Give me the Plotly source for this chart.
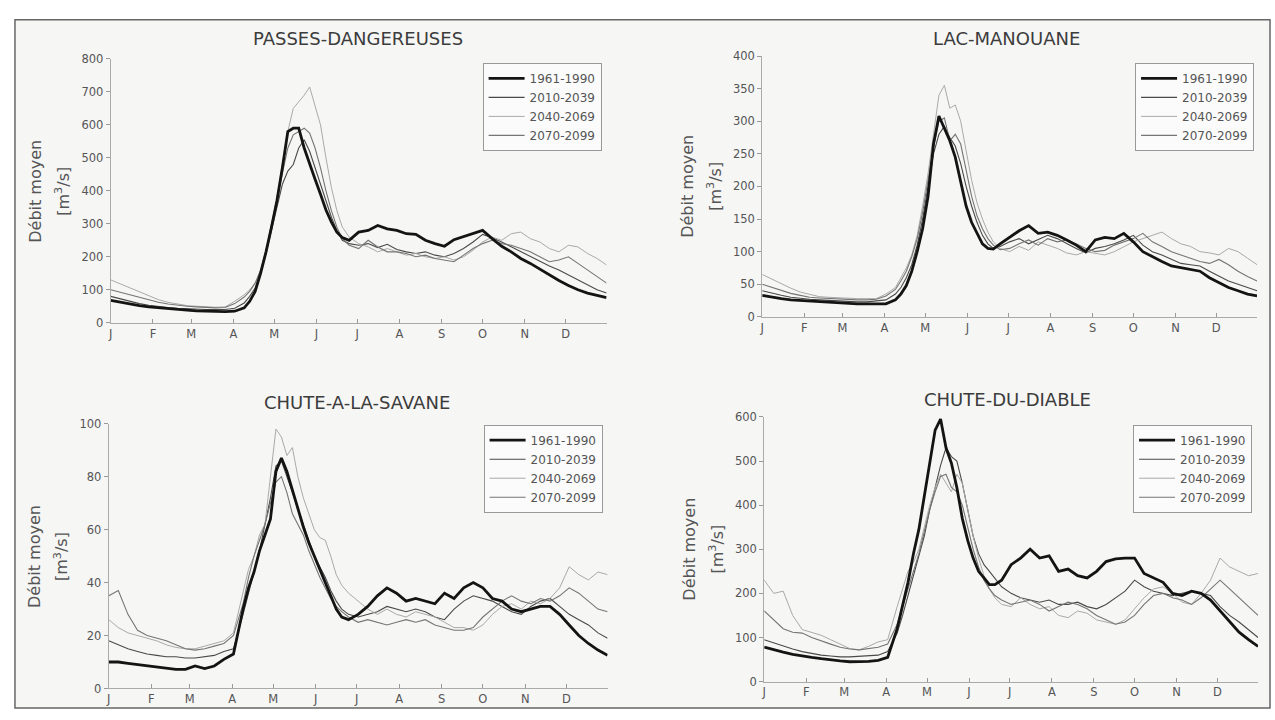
import plotly.graph_objects as go

# ---------------- data ----------------
DAYS = [1, 8, 15, 22, 29, 36, 43, 50, 57, 64, 71, 78, 85, 92,
        99, 103, 107, 111, 115, 119, 123, 127, 131, 135, 139, 143, 147, 151, 155, 159, 163, 167, 171, 176,
        183, 190, 197, 204, 211, 218, 225, 232, 239, 246, 253, 260, 267, 274, 281, 288, 295, 302, 309,
        316, 323, 330, 337, 344, 351, 358, 365]

MONTH_START = [1, 32, 60, 91, 121, 152, 182, 213, 244, 274, 305, 335]
MONTH_LABELS = ["J", "F", "M", "A", "M", "J", "J", "A", "S", "O", "N", "D"]
PERIODS = ["1961-1990", "2010-2039", "2040-2069", "2070-2099"]
STATIONS = ["PASSES-DANGEREUSES", "LAC-MANOUANE", "CHUTE-A-LA-SAVANE", "CHUTE-DU-DIABLE"]
Y_MAX = [800, 400, 100, 600]
Y_DTICK = [100, 50, 20, 100]

pd_1961 = [68, 62, 57, 52, 48, 45, 42, 40, 38, 36, 35, 34, 34, 35,
           45, 65, 95, 150, 215, 290, 370, 470, 580, 590, 590, 530, 480, 435, 390, 342, 305, 275, 258, 250,
           275, 280, 295, 285, 280, 270, 268, 250, 240, 232, 252, 262, 270, 280, 255, 232, 215, 195, 180, 162,
           145, 128, 113, 100, 90, 82, 76]
pd_2010 = [80, 72, 65, 58, 53, 49, 46, 44, 42, 41, 40, 40, 40, 44,
           60, 80, 105, 150, 210, 280, 350, 420, 460, 480, 530, 555, 520, 470, 420, 370, 320, 280, 250, 240,
           235, 240, 228, 238, 222, 215, 210, 215, 205, 200, 210, 225, 245, 268, 258, 245, 230, 215, 200, 185,
           172, 160, 145, 130, 115, 100, 90]
pd_2040 = [130, 118, 105, 92, 80, 70, 62, 56, 52, 50, 48, 47, 48, 65,
           85, 100, 120, 150, 210, 290, 380, 480, 580, 650, 670, 690, 715, 660, 600, 500, 410, 340, 290, 260,
           240, 230, 215, 225, 215, 205, 210, 200, 195, 200, 190, 200, 220, 245, 260, 250, 270, 275, 255, 245,
           225, 215, 235, 230, 210, 195, 175]
pd_2070 = [100, 92, 84, 76, 68, 62, 57, 53, 50, 48, 46, 45, 46, 58,
           78, 95, 120, 160, 220, 300, 380, 460, 530, 570, 580, 590, 575, 530, 470, 400, 340, 290, 255, 235,
           225, 250, 230, 215, 215, 210, 200, 205, 195, 190, 185, 205, 225, 240, 250, 240, 235, 225, 215, 200,
           185, 190, 200, 180, 160, 140, 120]

lm_1961 = [33, 30, 28, 26, 25, 24, 23, 22, 21, 21, 20, 20, 20, 20,
           26, 35, 48, 70, 100, 135, 185, 265, 308, 288, 270, 245, 205, 170, 145, 128, 112, 105, 104, 112,
           122, 132, 140, 128, 130, 125, 118, 110, 100, 118, 122, 120, 128, 115, 100, 92, 85, 78, 75, 73,
           70, 60, 52, 45, 40, 35, 32]
lm_2010 = [40, 36, 33, 30, 28, 27, 26, 25, 24, 24, 23, 23, 24, 26,
           35, 45, 60, 80, 110, 150, 200, 250, 280, 292, 275, 262, 235, 200, 170, 145, 125, 112, 105, 108,
           115, 120, 112, 118, 125, 120, 112, 105, 98, 105, 108, 112, 118, 125, 110, 100, 95, 88, 82, 80,
           78, 70, 62, 55, 50, 45, 40]
lm_2040 = [65, 58, 50, 44, 38, 34, 31, 30, 29, 28, 28, 28, 28, 35,
           45, 60, 75, 95, 125, 170, 220, 280, 340, 355, 320, 325, 300, 255, 210, 175, 150, 130, 115, 105,
           100, 108, 102, 115, 110, 105, 98, 95, 100, 98, 95, 100, 108, 115, 120, 125, 130, 120, 112, 108,
           100, 98, 95, 105, 100, 90, 80]
lm_2070 = [50, 45, 40, 36, 33, 30, 29, 28, 27, 27, 26, 26, 27, 32,
           42, 55, 70, 92, 120, 160, 210, 260, 300, 305, 270, 280, 265, 225, 185, 155, 135, 120, 110, 103,
           105, 112, 118, 110, 120, 115, 118, 112, 105, 100, 102, 110, 115, 120, 128, 115, 108, 100, 95, 90,
           85, 82, 88, 80, 70, 62, 55]

cs_1961 = [10, 10, 9.5, 9, 8.5, 8, 7.5, 7.2, 7.2, 8.5, 7.5, 8.5, 11, 13,
           30, 38, 44, 52, 58, 64, 82, 87, 82, 75, 68, 61, 55, 50, 45, 40, 35, 30, 27, 26,
           28, 31, 35, 38, 36, 33, 34, 33, 32, 36, 34, 38, 40, 38, 34, 33, 30, 29, 30, 31,
           31, 28, 24, 20, 17, 14.5, 12.5]
cs_2010 = [18, 16.5, 15, 14, 13, 12.5, 12, 12, 11.5, 11.5, 12, 12.5, 14, 15,
           28, 36, 44, 52, 62, 72, 84, 86, 80, 74, 68, 62, 56, 50, 46, 42, 37, 33, 30, 28,
           27, 28, 29, 31, 30, 29, 30, 29, 27, 26, 30, 33, 35, 34, 33, 31, 29, 28, 31, 33,
           34, 31, 28, 26, 24, 21, 19]
cs_2040 = [26, 23, 21, 20, 19, 18, 16.5, 15.5, 15, 15, 16, 17, 18, 21,
           36, 45, 50, 58, 62, 80, 98, 95, 88, 91, 80, 72, 66, 60, 57, 56, 50, 43, 39, 36,
           33, 30, 28, 30, 28, 27, 29, 28, 27, 25, 23, 23, 22, 24, 28, 31, 32, 30, 33, 32,
           34, 38, 46, 43, 41, 44, 43]
cs_2070 = [35, 37, 28, 22, 20, 19, 18, 16.5, 15, 14.5, 15, 16, 17, 20,
           32, 42, 50, 56, 62, 70, 78, 80, 74, 66, 62, 58, 52, 47, 42, 38, 34, 31, 29, 27,
           25, 26, 25, 24, 25, 26, 25, 26, 24, 23, 22, 22, 23, 27, 30, 33, 35, 33, 32, 34,
           33, 35, 38, 36, 33, 30, 29]

cd_1961 = [78, 72, 67, 62, 58, 55, 52, 49, 47, 45, 45, 46, 48, 55,
           120, 170, 225, 290, 345, 420, 495, 570, 595, 530, 495, 440, 370, 320, 280, 250, 235, 220, 220, 230,
           265, 280, 300, 280, 285, 250, 255, 240, 235, 250, 272, 278, 280, 280, 245, 235, 225, 200, 195, 205,
           200, 185, 160, 135, 112, 95, 80]
cd_2010 = [95, 88, 80, 74, 68, 64, 60, 58, 56, 56, 57, 58, 60, 68,
           110, 150, 195, 240, 280, 330, 390, 440, 490, 530, 510, 500, 450, 390, 330, 290, 265, 250, 235, 215,
           200, 190, 185, 180, 185, 175, 175, 180, 170, 165, 175, 190, 205, 230, 215, 205, 200, 195, 200, 205,
           200, 195, 170, 150, 135, 118, 100]
cd_2040 = [230, 200, 205, 150, 118, 112, 105, 95, 85, 75, 72, 80, 90, 95,
           170, 210, 250, 270, 300, 350, 400, 440, 470, 450, 430, 470, 450, 390, 330, 280, 240, 210, 190, 175,
           170, 190, 175, 165, 170, 150, 145, 160, 155, 140, 135, 130, 140, 165, 190, 210, 215, 200, 180, 175,
           200, 230, 280, 260, 250, 240, 245]
cd_2070 = [160, 140, 120, 112, 110, 100, 92, 85, 78, 74, 72, 75, 78, 85,
           130, 170, 210, 250, 290, 340, 390, 430, 465, 470, 440, 430, 400, 350, 300, 260, 230, 210, 195, 185,
           175, 180, 185, 175, 160, 170, 180, 175, 165, 150, 140, 130, 135, 150, 175, 195, 200, 190, 185, 175,
           190, 210, 230, 210, 190, 170, 150]

FLOWS = [
    [pd_1961, pd_2010, pd_2040, pd_2070],
    [lm_1961, lm_2010, lm_2040, lm_2070],
    [cs_1961, cs_2010, cs_2040, cs_2070],
    [cd_1961, cd_2010, cd_2040, cd_2070],
]

# ---------------- layout / style ----------------
W, H = 1275, 720


def px(x):
    return x / W


def py(y):
    return 1 - y / H


FONT = "DejaVu Sans, Liberation Sans, Arial"
STYLES = [
    dict(color="#141414", width=2.8),
    dict(color="#4a4a4a", width=1.1),
    dict(color="#a9a9a9", width=1.0),
    dict(color="#757575", width=1.1),
]
# plot area boxes in pixels: (x0, x1), (ytop, ybottom), title centre, legend top-right corner
BOXES = [
    dict(x=(108, 605), y=(53, 322), title=(356, 32), leg=(600, 57)),
    dict(x=(761, 1257), y=(50, 316), title=(1006, 32), leg=(1254, 57)),
    dict(x=(106, 606), y=(425, 695), title=(355, 403), leg=(601, 426)),
    dict(x=(763, 1258), y=(418, 688), title=(1007, 400), leg=(1252, 426)),
]

fig = go.Figure()
layout = dict(
    width=W, height=H, autosize=False,
    margin=dict(l=0, r=0, t=0, b=0),
    paper_bgcolor="white", plot_bgcolor="rgba(0,0,0,0)",
    font=dict(family=FONT, color="#444"),
    showlegend=True,
    shapes=[dict(type="rect", xref="paper", yref="paper",
                 x0=px(12), x1=px(1270), y0=py(715), y1=py(13),
                 line=dict(color="#666", width=1.5), fillcolor="#f6f6f5", layer="below")],
    annotations=[],
)

for i, station in enumerate(STATIONS):
    ax = "" if i == 0 else str(i + 1)
    b = BOXES[i]
    for j in [1, 2, 3, 0]:
        fig.add_trace(go.Scatter(
            x=DAYS, y=FLOWS[i][j], mode="lines", name=PERIODS[j],
            line=STYLES[j], xaxis="x" + ax, yaxis="y" + ax,
            legend="legend" + ax, legendrank=j + 1, hoverinfo="skip",
        ))
    layout["xaxis" + ax] = dict(
        domain=[px(b["x"][0]), px(b["x"][1])], range=[1, 365], anchor="y" + ax,
        tickmode="array", tickvals=MONTH_START, ticktext=MONTH_LABELS,
        ticks="inside", ticklen=4, tickcolor="#999", tickwidth=1,
        showline=True, linecolor="#aaa", linewidth=1,
        showgrid=False, zeroline=False,
        tickfont=dict(family=FONT, size=11.5, color="#555"),
    )
    layout["yaxis" + ax] = dict(
        domain=[py(b["y"][1]), py(b["y"][0])], range=[0, Y_MAX[i]], anchor="x" + ax,
        dtick=Y_DTICK[i], tick0=0,
        ticks="outside", ticklen=4, tickcolor="#999", tickwidth=1,
        showline=True, linecolor="#aaa", linewidth=1,
        showgrid=False, zeroline=False,
        tickfont=dict(family=FONT, size=11.5, color="#555"),
    )
    layout["legend" + ax] = dict(
        x=px(b["leg"][0]), y=py(b["leg"][1]), xanchor="right", yanchor="top",
        xref="paper", yref="paper",
        bgcolor="#fbfbfb", bordercolor="#999", borderwidth=1,
        font=dict(family=FONT, size=12, color="#555"),
        itemwidth=36, tracegroupgap=0, traceorder="normal",
    )
    layout["annotations"].append(dict(
        text=station, x=px(b["title"][0]), y=py(b["title"][1]),
        xref="paper", yref="paper", xanchor="center", yanchor="middle",
        showarrow=False, font=dict(family=FONT, size=18, color="#3c3c3c"),
    ))
    yc = py((b["y"][0] + b["y"][1]) / 2)
    layout["annotations"].append(dict(
        text="Débit moyen", x=px(b["x"][0] - 75), y=yc, textangle=-90,
        xref="paper", yref="paper", xanchor="center", yanchor="middle",
        showarrow=False, font=dict(family=FONT, size=16, color="#555"),
    ))
    layout["annotations"].append(dict(
        text="[m<sup>3</sup>/s]", x=px(b["x"][0] - 48), y=yc, textangle=-90,
        xref="paper", yref="paper", xanchor="center", yanchor="middle",
        showarrow=False, font=dict(family=FONT, size=16, color="#555"),
    ))

fig.update_layout(**layout)
fig.write_html("out.html")
